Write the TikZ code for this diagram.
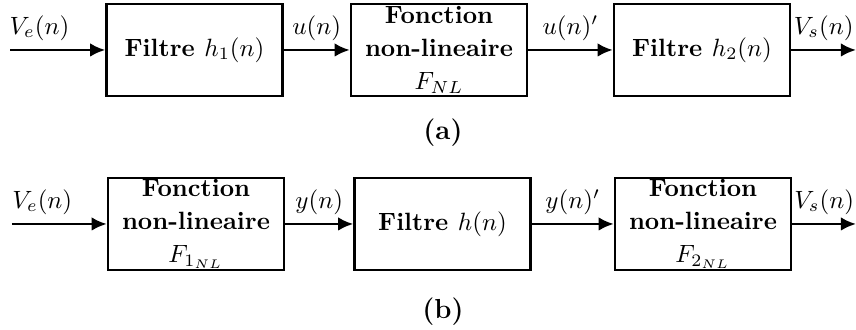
\documentclass[tikz,border=0pt]{standalone}
\usetikzlibrary{arrows.meta}
\tikzset{
  bloc/.style={draw,line width=1pt,minimum width=70.4pt,minimum height=36.8pt,
    inner sep=0pt,align=center,font=\fontsize{10}{13.2}\selectfont\bfseries},
  signal/.style={line width=1pt,-{Latex[length=6pt,width=5.4pt]}},
  legende/.style={font=\fontsize{11}{13}\selectfont\bfseries}
}
\begin{document}
\begin{tikzpicture}[x=0.4pt,y=0.4pt]
  \useasboundingbox (0,0) rectangle (856,330);

  % (a) filtre - fonction non-lineaire - filtre
  \coordinate (ea) at (10,280);
  \node[bloc] (fa1) at (194.5,280) {Filtre $h_1(n)$};
  \node[bloc] (nla) at (439,280) {Fonction\\non-lineaire\\$F_{NL}$};
  \node[bloc] (fa2) at (702,280) {Filtre $h_2(n)$};
  \coordinate (sa) at (856,280);

  \draw[signal] (ea) -- node[pos=0.31,above] {$V_e(n)$} (fa1);
  \draw[signal] (fa1) -- node[above] {$u(n)$} (nla);
  \draw[signal] (nla) -- node[above] {$u(n)'$} (fa2);
  \draw[signal] (fa2) -- node[above] {$V_s(n)$} (sa);

  \node[legende] (la) at (443,197) {(a)};

  % (b) fonction non-lineaire - filtre - fonction non-lineaire
  \coordinate (eb) at (12,106);
  \node[bloc] (nlb1) at (196,106) {Fonction\\non-lineaire\\$F_{1_{NL}}$};
  \node[bloc] (fb) at (442.5,106) {Filtre $h(n)$};
  \node[bloc] (nlb2) at (703,106) {Fonction\\non-lineaire\\$F_{2_{NL}}$};
  \coordinate (sb) at (856,106);

  \draw[signal] (eb) -- node[pos=0.32,above] {$V_e(n)$} (nlb1);
  \draw[signal] (nlb1) -- node[above] {$y(n)$} (fb);
  \draw[signal] (fb) -- node[above] {$y(n)'$} (nlb2);
  \draw[signal] (nlb2) -- node[above] {$V_s(n)$} (sb);

  \node[legende] (lb) at (443,18) {(b)};
\end{tikzpicture}
\end{document}
